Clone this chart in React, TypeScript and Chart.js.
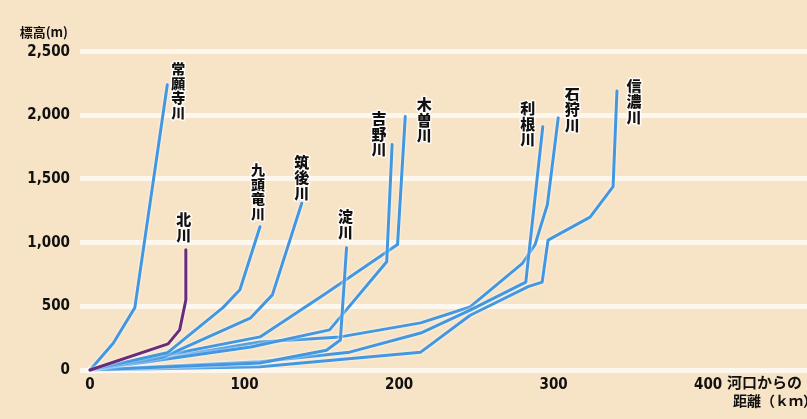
import React, { useEffect, useRef } from "react";
import { Chart, registerables } from "chart.js";

Chart.register(...registerables);

// ---- data (distance from river mouth in km, elevation in m) ----
const riverNames = ["北川", "常願寺川", "九頭竜川", "筑後川", "淀川", "吉野川", "木曽川", "利根川", "石狩川", "信濃川"];

const kitaKm = [0, 50.5, 58, 62, 62];
const kitaM = [0, 205, 315, 550, 945];
const joganjiKm = [0, 15, 29, 50];
const joganjiM = [0, 210, 490, 2240];
const kuzuryuKm = [0, 50, 86, 97, 110];
const kuzuryuM = [0, 135, 490, 630, 1125];
const chikugoKm = [0, 47, 104, 118, 137];
const chikugoM = [0, 100, 410, 590, 1310];
const yodoKm = [0, 110, 153, 162, 166];
const yodoM = [0, 55, 155, 235, 960];
const yoshinoKm = [0, 104, 155, 192, 195.5];
const yoshinoM = [0, 180, 315, 850, 1770];
const kisoKm = [0, 110, 153, 199, 204];
const kisoM = [0, 260, 605, 985, 1990];
const toneKm = [0, 110, 168, 214, 246, 282, 293];
const toneM = [0, 65, 140, 290, 470, 690, 1910];
const ishikariKm = [0, 110, 162, 214, 246, 280, 288, 296, 303];
const ishikariM = [0, 220, 260, 370, 495, 840, 985, 1300, 1980];
const shinanoKm = [0, 110, 214, 246, 283.5, 292.6, 296.4, 323.6, 338.5, 341];
const shinanoM = [0, 25, 140, 430, 655, 690, 1020, 1200, 1440, 2190];

const riverKm = [kitaKm, joganjiKm, kuzuryuKm, chikugoKm, yodoKm, yoshinoKm, kisoKm, toneKm, ishikariKm, shinanoKm];
const riverM = [kitaM, joganjiM, kuzuryuM, chikugoM, yodoM, yoshinoM, kisoM, toneM, ishikariM, shinanoM];

const xTickValues = [0, 100, 200, 300, 400];
const yTickValues = [0, 500, 1000, 1500, 2000, 2500];
const yTickLabels = ["0", "500", "1,000", "1,500", "2,000", "2,500"];

const yAxisTitle = "標高(m)";
const xAxisTitle = ["河口からの", "距離（ｋｍ）"];

// ---- styling ----
const BLUE = "#4397e0";
const PURPLE = "#6a2b7a";
const BG = "#f7e3c6";
const TICK_FONT = '"Liberation Sans Narrow", "DejaVu Sans Condensed", "Noto Sans CJK JP", sans-serif';
const CJK_FONT = '"Noto Sans CJK JP", "Noto Sans CJK SC", sans-serif';

// label offsets (px) of the first character's centre from each river's end point
const labelOffsets: Record<string, [number, number]> = {
  "北川": [-2, -30],
  "常願寺川": [11, -16],
  "九頭竜川": [-2, -57],
  "筑後川": [0, -41],
  "淀川": [-1, -31],
  "吉野川": [-13, -26],
  "木曽川": [19, -12],
  "利根川": [-15, -18],
  "石狩川": [14, -24],
  "信濃川": [17, -5],
};

const glowPlugin = {
  id: "glow",
  beforeDatasetDraw(chart: any) {
    const ctx = chart.ctx;
    ctx.save();
    ctx.shadowColor = "rgba(255,255,255,0.95)";
    ctx.shadowBlur = 3;
  },
  afterDatasetDraw(chart: any) {
    chart.ctx.restore();
  },
};

const labelPlugin = {
  id: "riverLabels",
  afterDatasetsDraw(chart: any) {
    const ctx = chart.ctx;
    ctx.save();
    ctx.textAlign = "center";
    ctx.textBaseline = "middle";
    ctx.lineJoin = "round";
    chart.data.datasets.forEach((ds: any, i: number) => {
      const meta = chart.getDatasetMeta(i);
      const last = meta.data[meta.data.length - 1];
      if (!last) return;
      const name = ds.label as string;
      const [dx, dy] = labelOffsets[name] || [10, -10];
      const size = name.length >= 4 ? 14 : 15;
      ctx.font = `900 ${size}px ${CJK_FONT}`;
      const pitch = size + 0.5;
      Array.from(name).forEach((ch, k) => {
        const x = last.x + dx;
        const y = last.y + dy + k * pitch;
        ctx.strokeStyle = "rgba(255,255,255,0.85)";
        ctx.lineWidth = 3;
        ctx.strokeText(ch, x, y);
        ctx.fillStyle = "#111";
        ctx.fillText(ch, x, y);
      });
    });
    // axis titles
    const xs = chart.scales.x;
    const ys = chart.scales.y;
    ctx.fillStyle = "#111";
    ctx.textAlign = "right";
    ctx.font = `bold 13px ${CJK_FONT}`;
    ctx.fillText(yAxisTitle, ys.right - 12, ys.getPixelForValue(2500) - 20);
    ctx.textAlign = "left";
    ctx.font = `bold 15px ${CJK_FONT}`;
    const x0 = xs.getPixelForValue(400) + 19;
    const bottom = chart.chartArea.bottom;
    ctx.fillText(xAxisTitle[0], x0, bottom + 12);
    ctx.font = `bold 14px ${CJK_FONT}`;
    ctx.fillText(xAxisTitle[1], x0 + 6, bottom + 31);
    ctx.restore();
  },
};

export default function App() {
  const canvasRef = useRef<HTMLCanvasElement | null>(null);

  useEffect(() => {
    if (!canvasRef.current) return;
    const datasets = riverNames.map((name, i) => ({
      label: name,
      data: riverKm[i].map((km, j) => ({ x: km, y: riverM[i][j] })),
      borderColor: name === "北川" ? PURPLE : BLUE,
      borderWidth: 3,
      pointRadius: 0,
      tension: 0,
      fill: false,
      clip: false as any,
      borderJoinStyle: "round" as const,
      borderCapStyle: "round" as const,
    }));

    const chart = new Chart(canvasRef.current, {
      type: "line",
      data: { datasets },
      plugins: [glowPlugin, labelPlugin],
      options: {
        animation: false,
        responsive: true,
        maintainAspectRatio: false,
        layout: { padding: { top: 30, right: 0, bottom: 0, left: 0 } },
        plugins: {
          legend: { display: false },
          tooltip: { enabled: false },
          title: { display: false },
        },
        scales: {
          x: {
            type: "linear",
            min: -6.5,
            max: 464,
            afterFit(scale: any) {
              scale.height = 49;
            },
            afterBuildTicks(scale: any) {
              scale.ticks = xTickValues.map((v) => ({ value: v }));
            },
            grid: { display: false, drawTicks: false },
            border: { display: false },
            ticks: {
              padding: 6,
              color: "#111",
              maxRotation: 0,
              autoSkip: false,
              font: { family: TICK_FONT, size: 15, weight: "bold" },
              callback: (v: any) => String(v),
            },
          },
          y: {
            type: "linear",
            min: 0,
            max: 2670,
            afterFit(scale: any) {
              scale.width = 80;
            },
            afterBuildTicks(scale: any) {
              scale.ticks = yTickValues.map((v) => ({ value: v }));
            },
            grid: { color: "rgba(255,255,255,0.7)", lineWidth: 5, drawTicks: false },
            border: { display: false },
            ticks: {
              padding: 10,
              color: "#111",
              autoSkip: false,
              font: { family: TICK_FONT, size: 15, weight: "bold" },
              callback: (v: any) => {
                const idx = yTickValues.indexOf(Number(v));
                return idx >= 0 ? yTickLabels[idx] : "";
              },
            },
          },
        },
      },
    });
    return () => chart.destroy();
  }, []);

  return (
    <div
      style={{
        position: "fixed",
        left: 0,
        top: 0,
        width: 807,
        height: 419,
        background: BG,
        overflow: "hidden",
      }}
    >
      <canvas ref={canvasRef} />
    </div>
  );
}
